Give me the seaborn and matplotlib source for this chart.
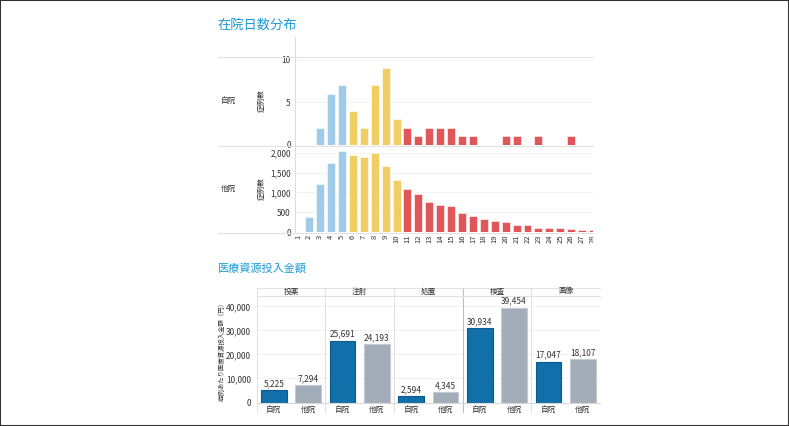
import pandas as pd
import matplotlib.pyplot as plt
import seaborn as sns
from matplotlib.lines import Line2D
from matplotlib.patches import Rectangle
from matplotlib.transforms import Bbox, TransformedBbox

# data
days = [str(d) for d in range(1, 29)]
own_counts = [0, 0, 2, 6, 7, 4, 2, 7, 9, 3, 2, 1, 2, 2, 2, 1, 1, 0, 0, 1,
              1, 0, 1, 0, 0, 1, 0, 0]
other_counts = [0, 390, 1220, 1750, 2040, 1960, 1900, 2010, 1660, 1320, 1100,
                960, 760, 680, 670, 490, 400, 340, 290, 250, 180, 180, 110,
                110, 90, 70, 60, 50]
row_names = ['自院', '他院']

categories = ['投薬', '注射', '処置', '検査', '画像']
hospitals = ['自院', '他院']
own_cost = [5225, 25691, 2594, 30934, 17047]
other_cost = [7294, 24193, 4345, 39454, 18107]


def band(d):
    d = int(d)
    if d <= 5:
        return '短'
    if d <= 10:
        return '中'
    return '長'


band_colors = {'短': '#a0cbe8', '中': '#f1ce63', '長': '#e15759'}
hosp_colors = {'自院': '#1170aa', '他院': '#a3acb9'}
hosp_edges = {'自院': '#0b5a8c', '他院': '#c4cad3'}
title_color = '#1a9bd7'

sns.set_theme(style='white')
plt.rcParams['font.family'] = ['Noto Sans CJK JP', 'DejaVu Sans']

W, H = 789, 426
fig = plt.figure(figsize=(W / 100, H / 100), dpi=100)


def px_axes(x0, y0, x1, y1):
    return fig.add_axes([x0 / W, 1 - y1 / H, (x1 - x0) / W, (y1 - y0) / H])


def fx(x):
    return x / W


def fy(y):
    return 1 - y / H


def hline(y, x0, x1, color='#e2e2e2', lw=0.8):
    fig.add_artist(Line2D([fx(x0), fx(x1)], [fy(y), fy(y)], color=color, lw=lw))


def vline(x, y0, y1, color='#e2e2e2', lw=0.8):
    fig.add_artist(Line2D([fx(x), fx(x)], [fy(y0), fy(y1)], color=color, lw=lw))


text_col = '#333333'

# ---- length of stay ----
fig.text(fx(218), fy(25), '在院日数分布', fontsize=9.5, color=title_color,
         va='center', ha='left')

rows = [
    (own_counts, (37, 145), 12.7, [0, 5, 10]),
    (other_counts, (146, 232), 2175, [0, 500, 1000, 1500, 2000]),
]
for i, (counts, (y0, y1), top, ticks) in enumerate(rows):
    ax = px_axes(295, y0, 593, y1)
    df = pd.DataFrame({'day': days, 'count': counts})
    df['band'] = df['day'].map(band)
    sns.barplot(data=df, x='day', y='count', hue='band', palette=band_colors,
                order=days, dodge=False, width=0.73, errorbar=None,
                saturation=1, legend=False, edgecolor='white', linewidth=0.4,
                ax=ax)
    ax.set_xlim(-0.3, 27.0)
    ax.set_ylim(0, top)
    ax.set_yticks(ticks)
    ax.set_yticklabels([f'{t:,}' for t in ticks], fontsize=6, color=text_col)
    ax.tick_params(axis='y', length=0, pad=3)
    ax.set_ylabel('')
    ax.set_xlabel('')
    for t in ticks[1:]:
        ax.axhline(t, color='#f2f2f2', lw=0.7, zorder=0)
    for s in ['top', 'right', 'bottom']:
        ax.spines[s].set_visible(False)
    ax.spines['left'].set_color('#dddddd')
    ax.spines['left'].set_linewidth(0.8)
    if i == 0:
        ax.set_xticks([])
    else:
        ax.set_xticks(range(len(days)))
        ax.set_xticklabels(days, rotation=90, fontsize=5.5, color=text_col)
        ax.tick_params(axis='x', length=0, pad=2)
        # the last label is cut by the pane edge, as in the original
        clip = TransformedBbox(Bbox([[-0.2, -0.5], [1.0, 1.0]]), ax.transAxes)
        for lbl in ax.get_xticklabels():
            lbl.set_clip_box(clip)
            lbl.set_clip_on(True)
    yc = (max(y0, 57) + y1) / 2
    fig.text(fx(221), fy(yc), row_names[i], fontsize=5.5, color=text_col,
             va='center', ha='left')
    fig.text(fx(262), fy(yc), '症例数', fontsize=5.5, color=text_col,
             va='center', ha='center', rotation=90)

hline(57, 218, 593)
hline(145.5, 218, 593)
hline(233, 218, 593)

# ---- medical resource cost ----
fig.text(fx(218), fy(268), '医療資源投入金額', fontsize=8, color=title_color,
         va='center', ha='left')

left, right = 256.7, 600
step = (right - left) / len(categories)
cost_ticks = [0, 10000, 20000, 30000, 40000]
for k, cat in enumerate(categories):
    x0 = left + k * step
    ax = px_axes(x0, 296, x0 + step, 402.5)
    df = pd.DataFrame({'hospital': hospitals,
                       'cost': [own_cost[k], other_cost[k]]})
    sns.barplot(data=df, x='hospital', y='cost', hue='hospital',
                palette=hosp_colors, order=hospitals, width=0.75,
                errorbar=None, saturation=1, legend=False, linewidth=0.8,
                ax=ax)
    for patch, h in zip(ax.patches, hospitals):
        patch.set_edgecolor(hosp_edges[h])
    for cont in ax.containers:
        ax.bar_label(cont, fmt='{:,.0f}', padding=1.5, fontsize=6,
                     color=text_col)
    ax.set_xlim(-0.5, 1.5)
    ax.set_ylim(0, 44300)
    ax.set_xlabel('')
    ax.set_ylabel('')
    for t in cost_ticks[1:]:
        ax.axhline(t, color='#f2f2f2', lw=0.7, zorder=0)
    ax.set_xticks([0, 1])
    ax.set_xticklabels(hospitals, fontsize=5.5, color=text_col)
    ax.tick_params(axis='x', length=0, pad=2.5)
    if k == 0:
        ax.set_yticks(cost_ticks)
        ax.set_yticklabels([f'{t:,}' for t in cost_ticks], fontsize=6,
                           color=text_col)
        ax.tick_params(axis='y', length=0, pad=4)
    else:
        ax.set_yticks([])
    for s in ax.spines.values():
        s.set_visible(False)
    fig.text(fx(x0 + step / 2), fy(291.5), cat, fontsize=5.5, color=text_col,
             va='center', ha='center')
    sep_col = '#bdbdbd' if k == 3 else '#e2e2e2'
    vline(x0, 288, 412, color=sep_col)

hline(288, left, right)
hline(296, left, right)
hline(403, left, right, color='#d8d8d8')
fig.text(fx(222), fy(350), '症例あたり医療資源投入金額（円）', fontsize=4.6,
         color=text_col, va='center', ha='center', rotation=90)

# frame around the picture
fig.add_artist(Rectangle((0, 0), 1, 1, transform=fig.transFigure, fill=False,
                         edgecolor='#333333', lw=1.5))

plt.savefig('out.png', dpi=100)
